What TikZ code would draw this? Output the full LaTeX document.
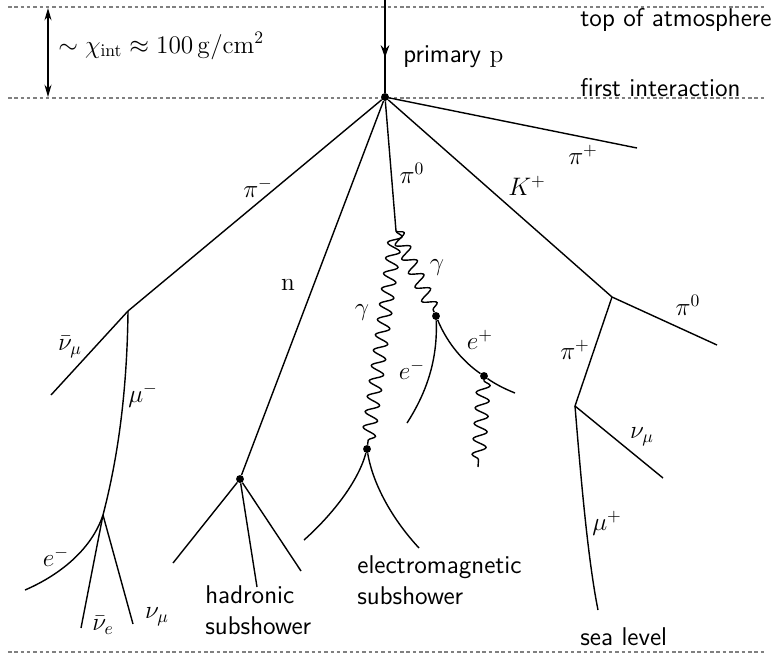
\documentclass[tikz,border=0pt]{standalone}
\usetikzlibrary{arrows.meta,decorations.pathmorphing,decorations.markings}

\begin{document}
\begin{tikzpicture}[x=0.02cm, y=-0.02cm, >=Stealth,
    spur/.style={line width=0.8pt},
    photon/.style={spur, decorate, decoration={snake, amplitude=1.35mm, segment length=3.1mm}},
    ebene/.style={gray, line width=0.6pt, dash pattern=on 2pt off 1.6pt},
    punkt/.style={circle, fill=black, inner sep=0pt, minimum size=4.5pt},
    teil/.style={font=\fontsize{14.4}{17}\selectfont, inner sep=0pt},
    schrift/.style={font=\fontsize{14.6}{17.5}\selectfont\sffamily, align=left, inner sep=0pt, anchor=west}]

    \useasboundingbox (0,0) rectangle (773,657);

    % Hoehen
    \draw[ebene] (8,7) -- (765,7);
    \draw[ebene] (8,98) -- (765,98);
    \draw[ebene] (8,652) -- (765,652);
    \node[schrift] (oben) at (580,20) {top of atmosphere};
    \node[schrift] (erste) at (580,88) {first interaction};
    \node[schrift] (meer) at (580,637) {sea level};

    % Wechselwirkungslaenge
    \coordinate (A1) at (48,8);
    \coordinate (A2) at (48,97);
    \draw[spur, {Stealth[open,length=7pt,width=4pt]}-{Stealth[open,length=7pt,width=4pt]}] (A1) -- (A2);
    \node[teil, anchor=west] (laenge) at (58,46) {$\sim\chi_{\mathrm{int}}\approx 100\,\mathrm{g/cm^2}$};

    % Primaerteilchen
    \coordinate (T) at (385,0);
    \node[punkt] (V) at (385,97) {};
    \draw[spur, postaction={decorate}, decoration={markings, mark=at position 0.62 with {\arrow{Stealth[length=7pt,width=5pt]}}}] (T) -- (V);
    \node[schrift] (prim) at (403,57) {primary $\mathrm{p}$};

    % Endpunkte und Verzweigungen
    \coordinate (piP) at (637,148);
    \coordinate (K) at (612,297);
    \coordinate (piO) at (717,345);
    \coordinate (P2) at (575,406);
    \coordinate (numuR) at (663,478);
    \coordinate (muP) at (598,610);
    \coordinate (P1) at (128,311);
    \coordinate (nubmu) at (51,395);
    \coordinate (M) at (103,515);
    \coordinate (eM) at (25,590);
    \coordinate (nube) at (81,628);
    \coordinate (numuL) at (133,624);
    \node[punkt] (H) at (240,479) {};
    \coordinate (h1) at (173,563);
    \coordinate (h2) at (257,587);
    \coordinate (h3) at (301,571);
    \coordinate (Z) at (396,231);
    \node[punkt] (E) at (367,449) {};
    \coordinate (em1) at (304,540);
    \coordinate (em2) at (419,548);
    \node[punkt] (G) at (436,316) {};
    \coordinate (eG) at (407,423);
    \node[punkt] (D) at (484,376) {};
    \coordinate (eP) at (515,393);
    \coordinate (gD) at (478,467);

    % Hadronische Spuren
    \draw[spur] (V) -- (piP);
    \draw[spur] (V) -- (K) -- (piO);
    \draw[spur] (K) -- (P2) -- (numuR);
    \draw[spur] (P2) .. controls (581,480) and (588,560) .. (muP);
    \draw[spur] (V) -- (P1) -- (nubmu);
    \draw[spur] (P1) .. controls (127,400) and (116,465) .. (M);
    \draw[spur] (M) .. controls (92,548) and (62,574) .. (eM);
    \draw[spur] (M) -- (nube);
    \draw[spur] (M) -- (numuL);
    \draw[spur] (V) -- (H);
    \foreach \h in {h1,h2,h3}
        \draw[spur] (H) -- (\h);

    % Elektromagnetischer Teil
    \draw[spur] (V) -- (Z);
    \draw[photon] (Z) -- (E);
    \draw[photon] (Z) -- (G);
    \draw[photon] (D) -- (gD);
    \draw[spur] (E) .. controls (358,482) and (332,515) .. (em1);
    \draw[spur] (E) .. controls (373,485) and (393,520) .. (em2);
    \draw[spur] (G) .. controls (438,362) and (425,395) .. (eG);
    \draw[spur] (G) .. controls (448,345) and (465,363) .. (D);
    \draw[spur] (D) .. controls (495,384) and (505,389) .. (eP);

    % Beschriftungen
    \node[teil] (lpiP) at (583,155) {$\pi^+$};
    \node[teil] (lK) at (527,186) {$K^+$};
    \node[teil] (lpiO) at (688,305) {$\pi^0$};
    \node[teil] (lpiPb) at (575,350) {$\pi^+$};
    \node[teil] (lnumuR) at (642,437) {$\nu_\mu$};
    \node[teil] (lmuP) at (607,523) {$\mu^+$};
    \node[teil] (lpiN) at (258,188) {$\pi^-$};
    \node[teil] (lnubmu) at (70,347) {$\bar\nu_\mu$};
    \node[teil] (lmuN) at (143,395) {$\mu^-$};
    \node[teil] (leM) at (56,557) {$e^-$};
    \node[teil] (lnube) at (103,625) {$\bar\nu_e$};
    \node[teil] (lnumuL) at (157,617) {$\nu_\mu$};
    \node[teil] (ln) at (288,285) {$\mathrm{n}$};
    \node[teil] (lpi0) at (412,173) {$\pi^0$};
    \node[teil] (lgR) at (437,268) {$\gamma$};
    \node[teil] (lgL) at (362,312) {$\gamma$};
    \node[teil] (leG) at (412,370) {$e^-$};
    \node[teil] (leP) at (480,340) {$e^+$};
    \node[schrift] (had) at (205,610) {hadronic\\subshower};
    \node[schrift] (elm) at (357,580) {electromagnetic\\subshower};

\end{tikzpicture}
\end{document}
